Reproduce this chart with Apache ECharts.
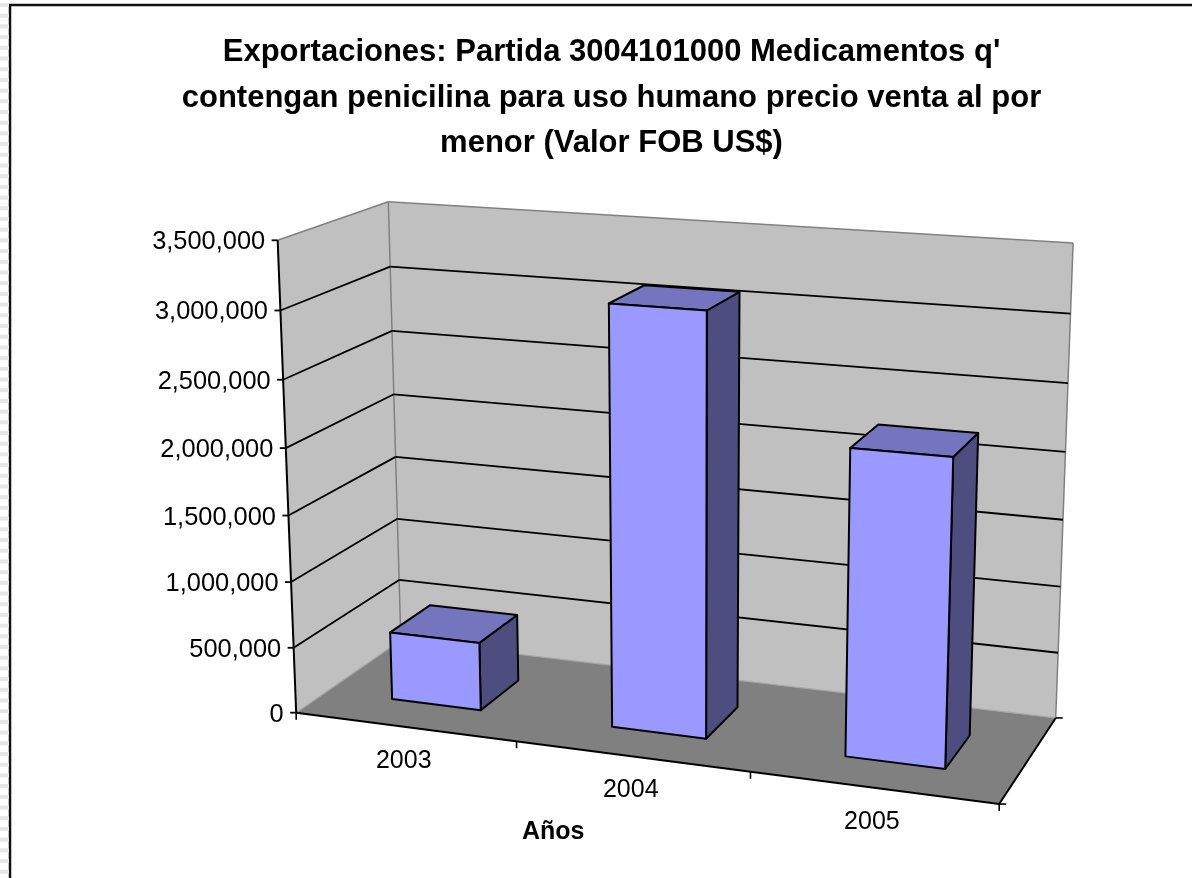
<!DOCTYPE html>
<html>
<head>
<meta charset="utf-8">
<title>Exportaciones</title>
<script src="https://cdn.jsdelivr.net/npm/echarts@6/dist/echarts.min.js"></script>
<style>
  html, body { margin: 0; padding: 0; background: #fff; }
  #main { width: 1192px; height: 878px; }
</style>
</head>
<body>
<div id="main"></div>
<script>
const years = ['2003', '2004', '2005']
const exportValues = [520000, 3110000, 2230000]
const yTicks = [0, 500000, 1000000, 1500000, 2000000, 2500000, 3000000, 3500000]
const titleText = "Exportaciones: Partida 3004101000 Medicamentos q'\ncontengan penicilina para uso humano precio venta al por\nmenor (Valor FOB US$)"
const xName = 'Años'

const FONT = '"Liberation Sans", Arial, sans-serif'
const BAR_W = 0.41 // share of one category
const BAR_SHIFT = 0.003
const BAR_FRONT = 0.285, BAR_BACK = 0.68 // depth of the bars on the floor

// where the corners of the plot box land on screen: [u, v, w] -> [x, y]
// u along the years, v into the picture, w up the value axis
const anchors = [
  [[0, 0, 0], [297, 713]], [[1, 0, 0], [999, 804]], [[1, 1, 0], [1056, 718]], [[0, 1, 0], [400, 640]],
  [[0, 0, 1], [277, 240]], [[0, 1, 1], [389, 202]], [[1, 1, 1], [1073, 243]]
]

// least squares fit of the 3x4 perspective matrix (last entry fixed to 1)
function fitCamera(pts) {
  const n = 11
  const A = Array.from({ length: n }, () => new Array(n + 1).fill(0))
  const add = (r, b) => {
    for (let i = 0; i < n; i++) {
      for (let j = 0; j < n; j++) A[i][j] += r[i] * r[j]
      A[i][n] += r[i] * b
    }
  }
  pts.forEach(([[u, v, w], [x, y]]) => {
    add([u, v, w, 1, 0, 0, 0, 0, -x * u, -x * v, -x * w], x)
    add([0, 0, 0, 0, u, v, w, 1, -y * u, -y * v, -y * w], y)
  })
  for (let i = 0; i < n; i++) {
    let p = i
    for (let k = i + 1; k < n; k++) if (Math.abs(A[k][i]) > Math.abs(A[p][i])) p = k
    ;[A[i], A[p]] = [A[p], A[i]]
    for (let k = 0; k < n; k++) {
      if (k === i) continue
      const f = A[k][i] / A[i][i]
      for (let j = i; j <= n; j++) A[k][j] -= f * A[i][j]
    }
  }
  return A.map((row, i) => row[n] / row[i])
}
const m = fitCamera(anchors)
function project(u, v, w) {
  const d = m[8] * u + m[9] * v + m[10] * w + 1
  return [
    (m[0] * u + m[1] * v + m[2] * w + m[3]) / d,
    (m[4] * u + m[5] * v + m[6] * w + m[7]) / d
  ]
}

// read the flat hidden axes, hand back shares of the plot box
function unitOf(params, api, cat, val) {
  const cs = params.coordSys
  const p = api.coord([cat, val])
  return [(p[0] - cs.x) / cs.width, (cs.y + cs.height - p[1]) / cs.height]
}

function poly(points, fill, stroke, lineWidth) {
  return {
    type: 'polygon',
    shape: { points },
    style: { fill, stroke: stroke || null, lineWidth: lineWidth || 0, lineJoin: 'round' }
  }
}
function seg(a, b, stroke, lineWidth) {
  return {
    type: 'line',
    shape: { x1: a[0], y1: a[1], x2: b[0], y2: b[1] },
    style: { stroke, lineWidth: lineWidth || 1 }
  }
}

function renderBox() {
  const fl = project(0, 0, 0), fr = project(1, 0, 0), br = project(1, 1, 0), bl = project(0, 1, 0)
  const ft = project(0, 0, 1), bt = project(0, 1, 1), rt = project(1, 1, 1)
  const children = [
    poly([fl, ft, bt, bl], '#C0C0C0'),
    poly([bl, bt, rt, br], '#C0C0C0'),
    poly([fl, fr, br, bl], '#808080'),
    seg(ft, bt, '#808080', 1.5),
    seg(bt, rt, '#808080', 1.5),
    seg(bt, bl, '#808080', 1.5),
    seg(rt, br, '#808080', 1.5),
    seg(bl, br, '#A6A6A6', 1.2),
    seg(fl, bl, '#A6A6A6', 1.2),
    seg(ft, fl, '#000', 2),
    seg(fl, fr, '#000', 2),
    seg(fr, br, '#000', 2),
    seg(br, [br[0] + 7, br[1]], '#000', 1.6),
    seg(fr, [fr[0] + 7, fr[1]], '#000', 1.6)
  ]
  return { type: 'group', children }
}

function renderGrid(params, api) {
  const val = api.value(0)
  const w = unitOf(params, api, 0, val)[1]
  const f = project(0, 0, w), b = project(0, 1, w), r = project(1, 1, w)
  const children = [seg([f[0] - 6, f[1]], f, '#000', 1.8)]
  if (val > 0 && val < 3500000) children.push(seg(f, b, '#000', 1.8), seg(b, r, '#000', 1.8))
  children.push({
    type: 'text',
    style: {
      x: f[0] - 12.5, y: f[1] + 2,
      text: val.toLocaleString('en-US'),
      fill: '#000', font: '25.4px ' + FONT,
      textAlign: 'right', textVerticalAlign: 'middle'
    }
  })
  return { type: 'group', children }
}

function renderXTicks(params, api) {
  const i = params.dataIndex
  const cell = api.size([1, 0])[0] / params.coordSys.width
  const [cu] = unitOf(params, api, i, 0)
  const a = project(cu - cell / 2, 0, 0), z = project(cu + cell / 2, 0, 0), c = project(cu, 0, 0)
  const children = [seg(a, [a[0], a[1] + 7], '#000', 1.6)]
  if (i === years.length - 1) children.push(seg(z, [z[0], z[1] + 7], '#000', 1.6))
  children.push({
    type: 'text',
    style: {
      x: c[0] - 1, y: c[1] + 34,
      text: years[i],
      fill: '#000', font: '25px ' + FONT,
      textAlign: 'center', textVerticalAlign: 'middle'
    }
  })
  return { type: 'group', children }
}

function renderBar(params, api) {
  const i = api.value(0)
  const cell = api.size([1, 0])[0] / params.coordSys.width
  const [cu, top] = unitOf(params, api, i, api.value(1))
  const u0 = cu + BAR_SHIFT - cell * BAR_W / 2, u1 = cu + BAR_SHIFT + cell * BAR_W / 2
  const v0 = BAR_FRONT, v1 = BAR_BACK
  const fbl = project(u0, v0, 0), fbr = project(u1, v0, 0), bbr = project(u1, v1, 0)
  const ftl = project(u0, v0, top), ftr = project(u1, v0, top)
  const btl = project(u0, v1, top), btr = project(u1, v1, top)
  const edge = '#000'
  return {
    type: 'group',
    children: [
      poly([ftr, fbr, bbr, btr], '#4D4D80', edge, 2),
      poly([ftl, ftr, btr, btl], '#7575BF', edge, 2),
      poly([fbl, fbr, ftr, ftl], '#9999FF', edge, 2)
    ]
  }
}

// spreadsheet rows showing behind the chart frame
const frameBits = [
  { type: 'rect', shape: { x: 10, y: 5, width: 1300, height: 1000 }, style: { fill: '#fff', stroke: '#111', lineWidth: 2.5 } }
]
for (let y = 3; y < 878; y += 10.7) {
  frameBits.push({ type: 'rect', shape: { x: 0, y, width: 9, height: 4 }, style: { fill: '#E6E6E6' } })
}

const chart = echarts.init(document.getElementById('main'), null, { renderer: 'canvas' })
chart.setOption({
  animation: false,
  backgroundColor: '#fff',
  graphic: {
    elements: frameBits.map(e => Object.assign({ z: -1, silent: true }, e)).concat([{
      type: 'text', left: 522, top: 820, z: 5,
      style: { text: xName, fill: '#000', font: 'bold 25px ' + FONT }
    }])
  },
  title: {
    text: titleText,
    left: 606.5, top: 25, textAlign: 'center',
    textStyle: { fontFamily: FONT, fontSize: 31, fontWeight: 'bold', color: '#000', lineHeight: 45.5 }
  },
  grid: { left: 300, right: 200, top: 200, bottom: 170 },
  xAxis: { type: 'category', data: years, show: false },
  yAxis: { type: 'value', min: 0, max: 3500000, interval: 500000, show: false, splitLine: { show: false } },
  series: [
    { type: 'custom', name: 'box', z: 2, silent: true, renderItem: renderBox, data: [0] },
    { type: 'custom', name: 'ticks', z: 3, silent: true, renderItem: renderGrid, data: yTicks.map(v => [v]) },
    { type: 'custom', name: 'cats', z: 3, silent: true, renderItem: renderXTicks, data: years.map((y, i) => [i]) },
    {
      type: 'custom', name: 'Exportaciones', z: 4, renderItem: renderBar,
      encode: { x: 0, y: 1 },
      data: exportValues.map((v, i) => [i, v])
    }
  ]
})
</script>
</body>
</html>
